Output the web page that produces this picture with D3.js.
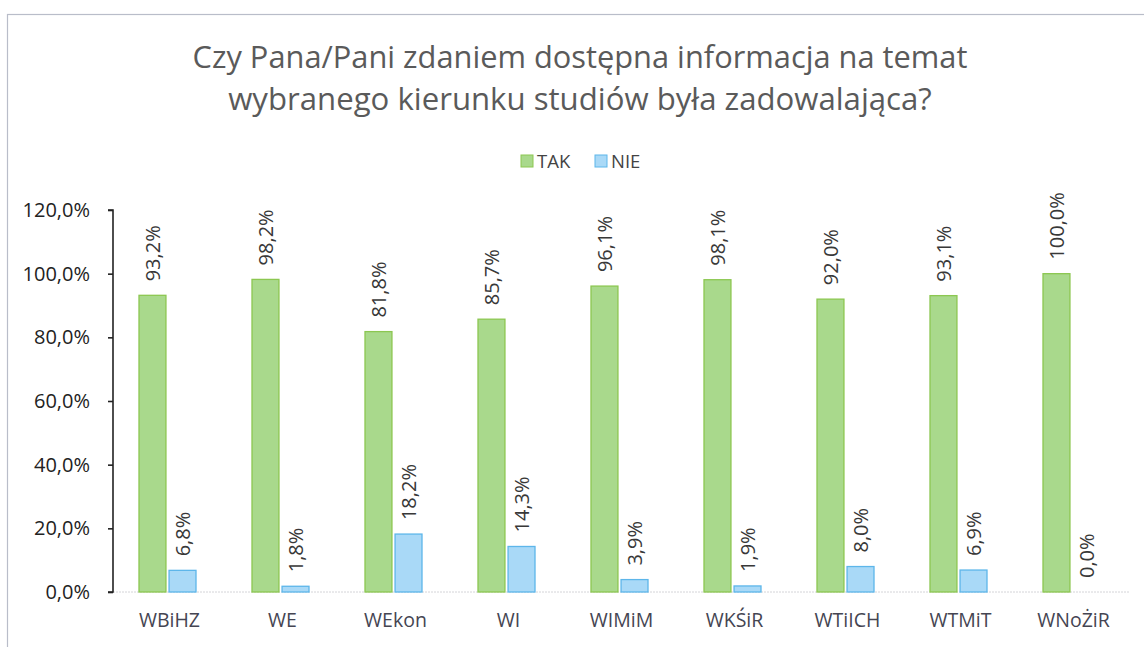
<!DOCTYPE html>
<html><head><meta charset="utf-8">
<script src="https://cdn.jsdelivr.net/npm/d3@7"></script>
<style>html,body{margin:0;padding:0;background:#fff;}svg{display:block;}</style>
</head><body>
<svg id="chart" width="1144" height="647"></svg>
<script>
const titleLines = ["Czy Pana/Pani zdaniem dostępna informacja na temat", "wybranego kierunku studiów była zadowalająca?"];
const categories = ["WBiHZ", "WE", "WEkon", "WI", "WIMiM", "WKŚiR", "WTiICH", "WTMiT", "WNoŻiR"];
const seriesNames = ["TAK", "NIE"];
const takValues = [0.932, 0.982, 0.818, 0.857, 0.961, 0.981, 0.920, 0.931, 1.000];
const nieValues = [0.068, 0.018, 0.182, 0.143, 0.039, 0.019, 0.080, 0.069, 0.000];
const yTicks = [0, 0.2, 0.4, 0.6, 0.8, 1.0, 1.2];

const fills = {TAK: "#a9d98c", NIE: "#a9d9f7"};
const strokes = {TAK: "#8cc751", NIE: "#5db6ea"};
const FONT = "'Open Sans', 'Noto Sans', sans-serif";

const svg = d3.select("#chart");
const fmt = v => d3.format(".1f")(v * 100).replace(".", ",") + "%";

// frame
svg.append("rect").attr("x", 7.5).attr("y", 14.5).attr("width", 1160).attr("height", 660)
  .attr("fill", "none").attr("stroke", "#b9bdc9").attr("stroke-width", 1.2);

// title
const titleTargets = [{cx: 580, y: 68, w: 775}, {cx: 580, y: 110, w: 704}];
titleLines.forEach((t, i) => {
  const el = svg.append("text").attr("x", titleTargets[i].cx).attr("y", titleTargets[i].y)
    .attr("text-anchor", "middle").attr("font-family", FONT).attr("font-size", 30)
    .attr("fill", "#5a5a5a").text(t);
  const len = el.node().getComputedTextLength();
  el.attr("font-size", 30 * titleTargets[i].w / len);
});

// scales
const x0 = d3.scaleBand().domain(categories).range([111, 1128]).padding(0);
const x1 = d3.scaleBand().domain(seriesNames).range([27.5, 85.5]).paddingInner(0.07);
const y = d3.scaleLinear().domain([0, 1.2]).range([592, 210]);

// zero baseline (faint)
svg.append("line").attr("x1", 113).attr("x2", 1130).attr("y1", y(0)).attr("y2", y(0))
  .attr("stroke", "#d4d4d8").attr("stroke-width", 1).attr("stroke-dasharray", "2,1");

// bars
const rows = categories.map((c, i) => ({cat: c, vals: [{s: "TAK", v: takValues[i]}, {s: "NIE", v: nieValues[i]}]}));
const g = svg.append("g");
const grp = g.selectAll("g.cat").data(rows).join("g").attr("class", "cat")
  .attr("transform", d => `translate(${x0(d.cat)},0)`);
grp.selectAll("rect").data(d => d.vals.filter(e => e.v > 0)).join("rect")
  .attr("x", d => x1(d.s) + 0.5).attr("width", x1.bandwidth() - 1)
  .attr("y", d => y(d.v)).attr("height", d => y(0) - y(d.v))
  .attr("fill", d => fills[d.s]).attr("stroke", d => strokes[d.s]).attr("stroke-width", 1.3);

// data labels (rotated)
grp.selectAll("text.lbl").data(d => d.vals).join("text").attr("class", "lbl")
  .attr("transform", d => `translate(${x1(d.s) + x1.bandwidth() / 2 + 7.5},${y(d.v) - 14}) rotate(-90)`)
  .attr("text-anchor", "start").attr("font-family", FONT).attr("font-size", 20)
  .attr("fill", "#383838").text(d => fmt(d.v));

// y axis
const yAxis = d3.axisLeft(y).tickValues(yTicks).tickFormat(fmt).tickSize(5).tickPadding(18);
const ya = svg.append("g").attr("transform", "translate(113,0)").call(yAxis);
ya.select(".domain").attr("stroke", "#222").attr("stroke-width", 1.6).attr("d", `M-5,${y(1.2)}H0V${y(0)}H-5`);
ya.selectAll(".tick line").attr("stroke", "#222").attr("stroke-width", 1.6);
ya.selectAll(".tick text").attr("font-family", FONT).attr("font-size", 20).attr("fill", "#222");

// x axis labels
const xAxis = d3.axisBottom(x0).tickSize(0).tickPadding(21);
const xa = svg.append("g").attr("transform", `translate(0,${y(0)})`).call(xAxis);
xa.select(".domain").remove();
xa.selectAll(".tick text").attr("font-family", FONT).attr("font-size", 19.5).attr("fill", "#454552")
  .attr("dx", 2);

// legend
const legend = svg.append("g");
const legItems = [{s: "TAK", x: 521}, {s: "NIE", x: 595}];
legItems.forEach(it => {
  legend.append("rect").attr("x", it.x).attr("y", 155).attr("width", 12).attr("height", 12)
    .attr("fill", fills[it.s]).attr("stroke", strokes[it.s]).attr("stroke-width", 1);
  legend.append("text").attr("x", it.x + 16).attr("y", 167.5).attr("font-family", FONT)
    .attr("font-size", 18.5).attr("fill", "#444").text(it.s);
});
</script>
</body></html>
